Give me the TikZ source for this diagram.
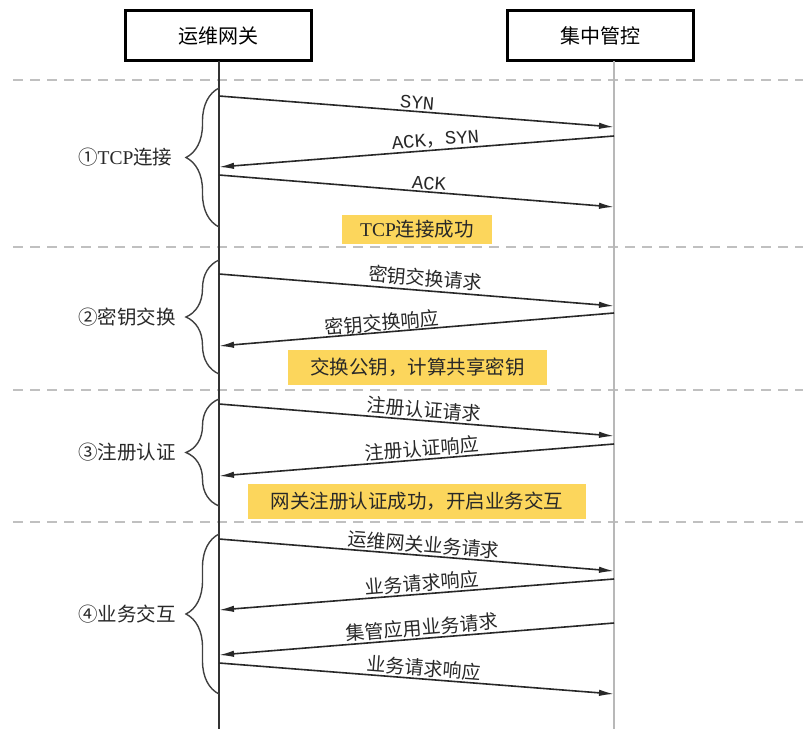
\documentclass[tikz,border=0pt]{standalone}
\usepackage{fontspec}
\setmainfont{Liberation Serif}
\newfontfamily\cjkfont{Noto Sans CJK SC}
\newfontfamily\lmono{Liberation Mono}
\newfontfamily\lserif{Liberation Serif}
\usetikzlibrary{arrows.meta,decorations.pathreplacing}
\definecolor{ybox}{RGB}{252,214,92}
\definecolor{sepgray}{RGB}{192,192,192}
\definecolor{linedark}{RGB}{40,40,40}
\begin{document}
\begin{tikzpicture}[x=1pt,y=-1pt,
  actor/.style={draw=black, line width=2.5pt, fill=white, minimum width=186pt, minimum height=50pt, inner sep=0pt, font=\cjkfont\fontsize{20}{24}\selectfont},
  msg/.style={line width=1.6pt, draw=linedark, -{Latex[length=15pt,width=6.5pt]}},
  lbl/.style={sloped, above, inner sep=1.5pt, font=\cjkfont\fontsize{19}{22}\selectfont, text=linedark},
  note/.style={fill=ybox, inner sep=0pt, font=\cjkfont\fontsize{19.5}{23}\selectfont, text=linedark},
  sep/.style={draw=sepgray, line width=2.5pt, dash pattern=on 10pt off 7pt},
  bracestyle/.style={draw=black!75, line width=1.4pt, decorate, decoration={brace, amplitude=33pt}},
  phase/.style={anchor=west, inner sep=0pt, font=\cjkfont\fontsize{19.5}{23}\selectfont, text=linedark}
]
\useasboundingbox (0,0) rectangle (803,729);

% separators
\foreach \yy/\nm in {80/s1,247/s2,390/s3,522/s4} {
  \coordinate (\nm a) at (13,\yy);
  \coordinate (\nm b) at (803,\yy);
  \draw[sep] (\nm a) -- (\nm b);
}

% actors
\node[actor] (gw) at (218.5,35.5) {运维网关};
\node[actor] (cc) at (600.5,35.5) {集中管控};

% lifelines
\coordinate (gwtop) at (219,61);
\coordinate (gwbot) at (219,729);
\coordinate (cctop) at (614,61);
\coordinate (ccbot) at (614,729);
\draw[line width=2pt, draw=black!80] (gwtop) -- (gwbot);
\draw[line width=2pt, draw=black!28] (cctop) -- (ccbot);

% phase 1
\coordinate (a1) at (219,96);  \coordinate (b1) at (614,127);
\coordinate (b2) at (614,136); \coordinate (a2) at (219,167);
\coordinate (a3) at (219,175); \coordinate (b3) at (614,207);
\draw[msg] (a1) -- node[lbl, pos=0.5, font=\lmono\fontsize{19}{22}\selectfont]{SYN} (b1);
\draw[msg] (b2) -- node[lbl, pos=0.45]{\lmono ACK{\cjkfont ，}SYN} (a2);
\draw[msg] (a3) -- node[lbl, pos=0.53, font=\lmono\fontsize{19}{22}\selectfont]{ACK} (b3);
\node[note, minimum width=150pt, minimum height=29pt] (n1) at (417,229.5) {{\lserif TCP}连接成功};
\coordinate (br1b) at (219,227); \coordinate (br1t) at (219,88);
\draw[bracestyle] (br1b) -- (br1t);
\node[phase] (p1) at (78,157.5) {①{\lserif TCP}连接};

% phase 2
\coordinate (a4) at (219,274); \coordinate (b4) at (614,306);
\coordinate (b5) at (614,313); \coordinate (a5) at (219,346);
\draw[msg] (a4) -- node[lbl, pos=0.52, inner sep=3pt]{密钥交换请求} (b4);
\draw[msg] (b5) -- node[lbl, pos=0.585, inner sep=0pt]{密钥交换响应} (a5);
\node[note, minimum width=259pt, minimum height=35pt] (n2) at (417.5,367.5) {交换公钥，计算共享密钥};
\coordinate (br2b) at (219,374); \coordinate (br2t) at (219,260);
\draw[bracestyle] (br2b) -- (br2t);
\node[phase] (p2) at (78,317) {②密钥交换};

% phase 3
\coordinate (a6) at (219,404); \coordinate (b6) at (614,436);
\coordinate (b7) at (614,444); \coordinate (a7) at (219,476);
\draw[msg] (a6) -- node[lbl, pos=0.516]{注册认证请求} (b6);
\draw[msg] (b7) -- node[lbl, pos=0.484]{注册认证响应} (a7);
\node[note, minimum width=338pt, minimum height=35pt] (n3) at (417,501.5) {网关注册认证成功，开启业务交互};
\coordinate (br3b) at (219,506); \coordinate (br3t) at (219,399);
\draw[bracestyle] (br3b) -- (br3t);
\node[phase] (p3) at (78,452.5) {③注册认证};

% phase 4
\coordinate (a8) at (219,539);  \coordinate (b8) at (614,571);
\coordinate (b9) at (614,579);  \coordinate (a9) at (219,610);
\coordinate (b10) at (614,623); \coordinate (a10) at (219,655);
\coordinate (a11) at (219,663); \coordinate (b11) at (614,694);
\draw[msg] (a8) -- node[lbl, pos=0.516]{运维网关业务请求} (b8);
\draw[msg] (b9) -- node[lbl, pos=0.484]{业务请求响应} (a9);
\draw[msg] (b10) -- node[lbl, pos=0.484]{集管应用业务请求} (a10);
\draw[msg] (a11) -- node[lbl, pos=0.516]{业务请求响应} (b11);
\coordinate (br4b) at (219,694); \coordinate (br4t) at (219,534);
\draw[bracestyle] (br4b) -- (br4t);
\node[phase] (p4) at (78,614) {④业务交互};
\end{tikzpicture}
\end{document}
